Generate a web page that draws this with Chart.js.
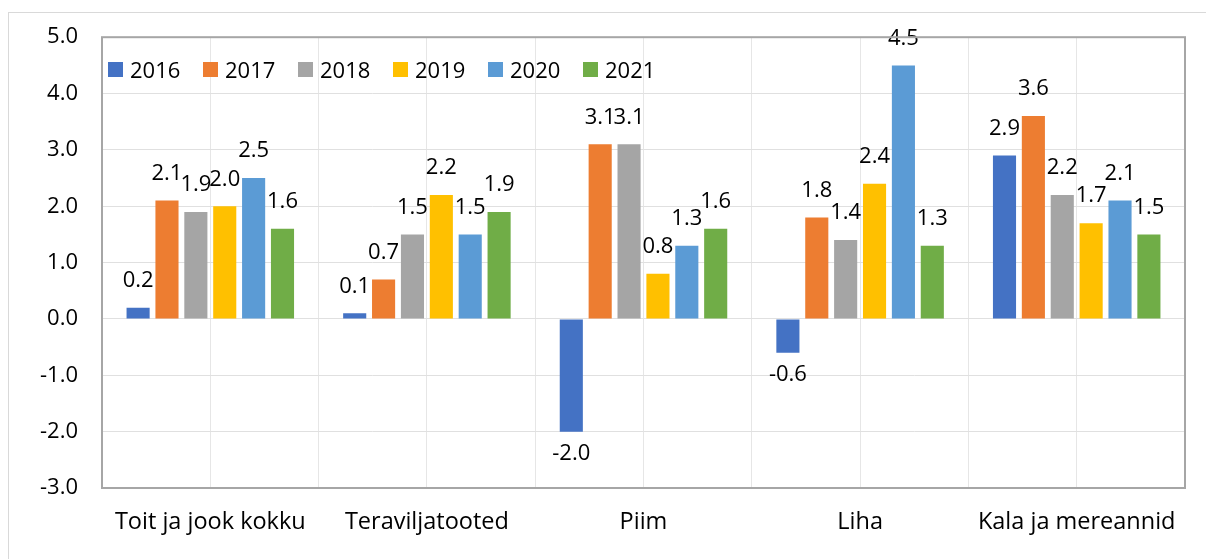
<!DOCTYPE html>
<html>
<head>
<meta charset="utf-8">
<script src="https://cdn.jsdelivr.net/npm/chart.js@4/dist/chart.umd.min.js"></script>
<style>
  body { margin: 0; background: #fff; font-family: 'Open Sans', sans-serif; }
  #frame { position: absolute; left: 8px; top: 12px; width: 1300px; height: 700px;
           border-left: 1px solid #d9d9d9; border-top: 1px solid #d9d9d9; }
  #wrap { position: absolute; left: 0; top: 0; width: 1206px; height: 559px; }
  #legend { position: absolute; left: 108px; top: 54px; display: flex; font-size: 22px;
            line-height: 30px; color: #000; }
  #legend .item { width: 95px; display: flex; align-items: center; }
  #legend .box { width: 15px; height: 15px; margin-right: 7px; }
</style>
</head>
<body>
<div id="frame"></div>
<div id="wrap"><canvas id="chart"></canvas></div>
<div id="legend"></div>
<script>
const categories = ['Toit ja jook kokku', 'Teraviljatooted', 'Piim', 'Liha', 'Kala ja mereannid'];
const years = ['2016', '2017', '2018', '2019', '2020', '2021'];
const v2016 = [0.2, 0.1, -2.0, -0.6, 2.9];
const v2017 = [2.1, 0.7, 3.1, 1.8, 3.6];
const v2018 = [1.9, 1.5, 3.1, 1.4, 2.2];
const v2019 = [2.0, 2.2, 0.8, 2.4, 1.7];
const v2020 = [2.5, 1.5, 1.3, 4.5, 2.1];
const v2021 = [1.6, 1.9, 1.6, 1.3, 1.5];
const yTicks = [-3, -2, -1, 0, 1, 2, 3, 4, 5];

const colors = ['#4472C4', '#ED7D31', '#A5A5A5', '#FFC000', '#5B9BD5', '#70AD47'];
const series = [v2016, v2017, v2018, v2019, v2020, v2021];
const font = { family: "'Open Sans', sans-serif", size: 22 };
const catFont = { family: "'Open Sans', sans-serif", size: 23.5 };

// legend row inside the plot area
const legendEl = document.getElementById('legend');
years.forEach((y, i) => {
  const item = document.createElement('div');
  item.className = 'item';
  item.innerHTML = `<span class="box" style="background:${colors[i]}"></span><span>${y}</span>`;
  legendEl.appendChild(item);
});

// value labels above (or below) each bar
const valueLabels = {
  id: 'valueLabels',
  afterDatasetsDraw(chart) {
    const ctx = chart.ctx;
    ctx.save();
    ctx.font = font.size + 'px ' + font.family;
    ctx.fillStyle = '#000';
    ctx.textAlign = 'center';
    ctx.textBaseline = 'middle';
    chart.data.datasets.forEach((ds, i) => {
      chart.getDatasetMeta(i).data.forEach((bar, j) => {
        const v = ds.data[j];
        const y = v >= 0 ? bar.y - 27 : bar.y + 22;
        ctx.fillText(v.toFixed(1), bar.x, y);
      });
    });
    ctx.restore();
  }
};

// plot area border
const plotBorder = {
  id: 'plotBorder',
  afterDraw(chart) {
    const a = chart.chartArea;
    const ctx = chart.ctx;
    ctx.save();
    ctx.strokeStyle = '#a6a6a6';
    ctx.lineWidth = 2;
    ctx.strokeRect(a.left, a.top, a.right - a.left, a.bottom - a.top);
    ctx.restore();
  }
};

new Chart(document.getElementById('chart'), {
  type: 'bar',
  data: {
    labels: categories,
    datasets: series.map((d, i) => ({
      label: years[i],
      data: d,
      backgroundColor: colors[i],
      xAxisID: 'x',
      barPercentage: 0.8,
      categoryPercentage: 0.8
    }))
  },
  options: {
    responsive: true,
    maintainAspectRatio: false,
    animation: false,
    layout: { padding: { left: 8, top: 32, right: 21, bottom: 0 } },
    plugins: {
      tooltip: { enabled: false },
      legend: { display: false }
    },
    scales: {
      x: {
        grid: { offset: true, color: '#e6e6e6', drawTicks: false },
        border: { display: false },
        ticks: { color: '#000', font: catFont, padding: 20 },
        afterFit(scale) { scale.height = 71; }
      },
      x2: {
        type: 'category',
        labels: categories,
        position: 'bottom',
        offset: true,
        grid: { offset: false, color: '#e6e6e6', drawTicks: false },
        border: { display: false },
        ticks: { display: false },
        afterFit(scale) { scale.height = 0; }
      },
      y: {
        min: -3,
        max: 5,
        afterBuildTicks(scale) { scale.ticks = yTicks.map(v => ({ value: v })); },
        grid: { color: '#e0e0e0', drawTicks: false },
        border: { display: false },
        ticks: {
          color: '#000',
          font: font,
          padding: 24,
          callback: v => v.toFixed(1)
        },
        afterFit(scale) { scale.width = 94; }
      }
    }
  },
  plugins: [valueLabels, plotBorder]
});
</script>
</body>
</html>
